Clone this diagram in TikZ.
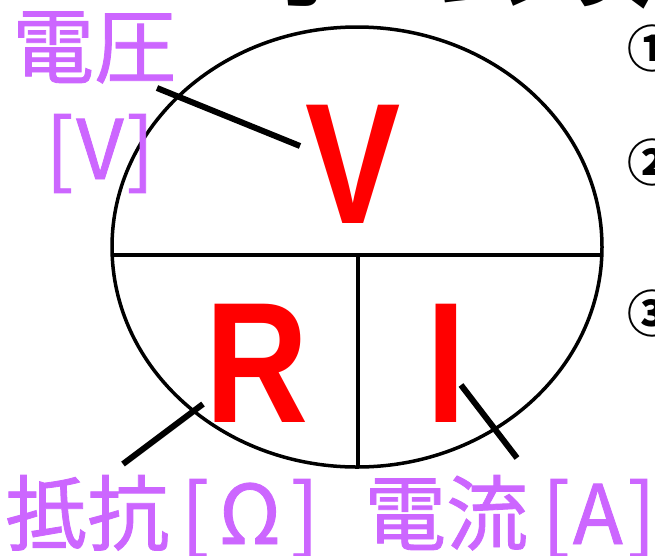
\documentclass[tikz,border=0pt]{standalone}
\usepackage{fontspec}
\setmainfont{Liberation Sans}
\newfontfamily\jp{Noto Sans CJK JP}
\newfontfamily\jpl[FakeBold=1]{Noto Sans CJK JP}
\definecolor{lblpurple}{RGB}{204,102,255}
\begin{document}
\begin{tikzpicture}[x=1pt,y=-1pt,
  lbl/.style={text=lblpurple, font=\jpl\fontsize{82}{82}\selectfont, inner sep=0pt},
  big/.style={text=red, font=\bfseries\fontsize{172}{172}\selectfont, inner sep=0pt, anchor=base},
  num/.style={font=\jp\bfseries\fontsize{50}{50}\selectfont, inner sep=0pt, anchor=west},
  thinline/.style={line width=3.5pt},
  leader/.style={line width=6pt}]
\useasboundingbox (0,0) rectangle (655,555);
\clip (0,0) rectangle (655,555);
% title (cut off at top)
\node[anchor=base west, inner sep=0pt, font=\jp\bfseries\fontsize{95}{95}\selectfont] (title) at (250,1.5) {オームの法則};
% circle diagram
\draw[thinline] (357,247) ellipse [x radius=245, y radius=220];
\coordinate (hl) at (112.2,255);
\coordinate (hr) at (601.8,255);
\coordinate (vt) at (358,255);
\coordinate (vb) at (358,467);
\draw[thinline] (hl) -- (hr);
\draw[thinline] (vt) -- (vb);
% letters
\node[big] (V) at (353,223) {\scalebox{0.83}[1]{V}};
\node[big] (R) at (257,422) {\scalebox{0.83}[1]{R}};
\node[big] (I) at (446,422) {\scalebox{0.83}[1]{I}};
% labels
\node[lbl, anchor=base west] (volt) at (12,77) {電圧};
\node[lbl, anchor=base] (voltu) at (100,179) {[\hspace{3pt}V\hspace{3pt}]};
\node[lbl, anchor=base west] (res) at (5,544) {抵抗\hspace{12pt}[\hspace{10pt}Ω\hspace{10pt}]};
\node[lbl, anchor=base west] (cur) at (364,544) {電流\hspace{14pt}[\hspace{3pt}A\hspace{5pt}]};
% leader lines
\coordinate (v1) at (157,88);
\coordinate (v2) at (300,146);
\coordinate (r1) at (203,404);
\coordinate (r2) at (123,464);
\coordinate (i1) at (461,385);
\coordinate (i2) at (517,458);
\draw[leader] (v1) -- (v2);
\draw[leader] (r1) -- (r2);
\draw[leader] (i1) -- (i2);
% numbers
\node[num] (n1) at (627,48) {①};
\node[num] (n2) at (627,162.5) {②};
\node[num] (n3) at (627,313) {③};
\end{tikzpicture}
\end{document}
